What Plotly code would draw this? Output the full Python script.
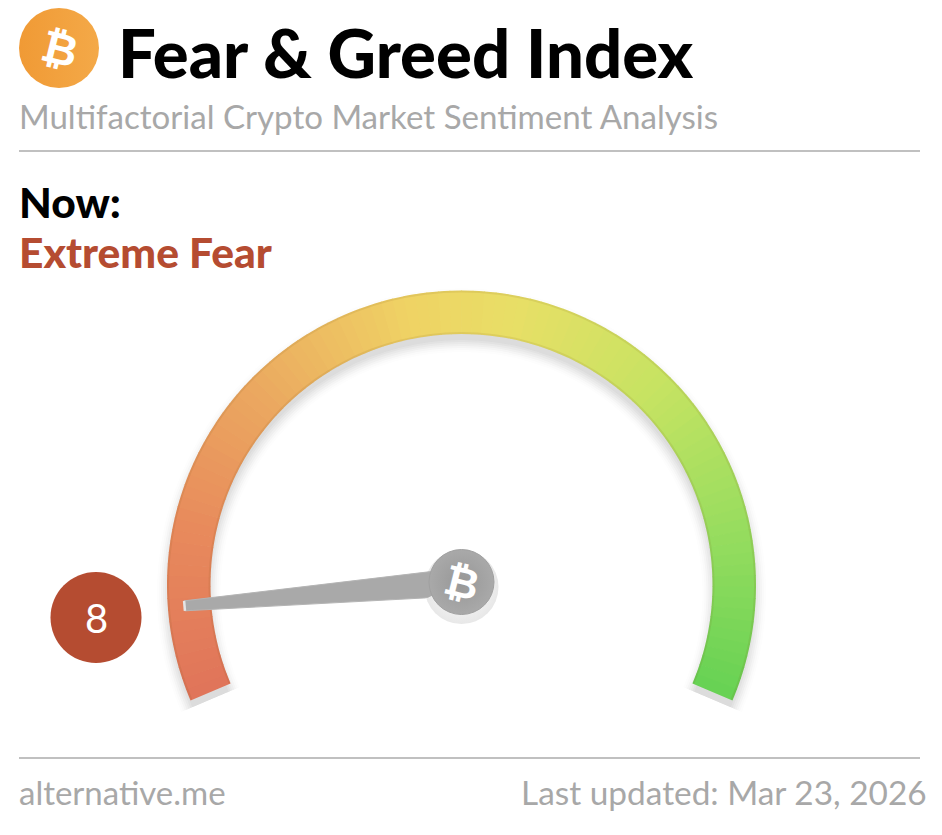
import math
import numpy as np
import plotly.graph_objs as go

## data
index_value = 8
index_label = 'Extreme Fear'
gauge_segments = np.arange(0, 100)
gauge_stops = [0, 0.15, 0.3, 0.45, 0.55, 0.7, 0.85, 1]
gauge_colors = ['#e0755a', '#e88a5c', '#ebaa60', '#efd264', '#e8df66', '#c6e362', '#98dd5f', '#68d254']

title = 'Fear & Greed Index'
subtitle = 'Multifactorial Crypto Market Sentiment Analysis'
site = 'alternative.me'
updated = 'Last updated: Mar 23, 2026'

W, H = 942, 835
CX, CY = 461.5, 585
HUB_Y = 582
R_OUT, R_IN = 294.5, 251
R_AXIS = 310
SWEEP = 226
START = -113
SECTOR = 25


def val2theta(v):
    return START + v * SWEEP / 100


def polar_layout(cy):
    bottom = cy + R_AXIS * math.sin(math.radians(SECTOR))
    return dict(domain=dict(x=[(CX - R_AXIS) / W, (CX + R_AXIS) / W],
                            y=[(H - bottom) / H, (H - (cy - R_AXIS)) / H]),
                sector=[-SECTOR, 180 + SECTOR],
                bgcolor='rgba(0,0,0,0)',
                barmode='overlay',
                radialaxis=dict(visible=False, range=[0, R_AXIS]),
                angularaxis=dict(visible=False, rotation=90, direction='clockwise',
                                 thetaunit='degrees'))


seg_theta = [val2theta(v + 0.5) for v in gauge_segments]
seg_width = SWEEP / 100 + 0.15
scale = [[s, c] for s, c in zip(gauge_stops, gauge_colors)]
arc_mid = val2theta(50)

fig = go.Figure()

# soft shadow, drawn first in its own offset subplot
for grow, alpha in [(10, 0.012), (8, 0.016), (6, 0.022), (4, 0.028), (2, 0.03), (0, 0.035), (-2, 0.035)]:
    fig.add_trace(go.Barpolar(r=[R_OUT - R_IN + 2 * grow], base=R_IN - grow,
                              theta=[arc_mid], width=[SWEEP],
                              marker=dict(color='rgba(50,50,50,%s)' % alpha, line=dict(width=0)),
                              hoverinfo='skip', showlegend=False, subplot='polar'))

# gauge band
fig.add_trace(go.Barpolar(r=[R_OUT - R_IN] * len(seg_theta),
                          base=R_IN,
                          theta=seg_theta,
                          width=seg_width,
                          marker=dict(color=[int(v) for v in gauge_segments], colorscale=scale,
                                      cmin=0, cmax=99, showscale=False, line=dict(width=0)),
                          hoverinfo='skip', showlegend=False, subplot='polar2'))

# slightly darker rim on the band
for base in [R_IN, R_OUT - 2]:
    fig.add_trace(go.Barpolar(r=[2], base=base, theta=[arc_mid], width=[SWEEP],
                              marker=dict(color='rgba(120,80,20,0.1)', line=dict(width=0)),
                              hoverinfo='skip', showlegend=False, subplot='polar2'))

# needle
needle_theta = val2theta(index_value)
tip_r, base_r, tip_half, base_half = 278, 30, 5, 13
needle_r = [math.hypot(tip_r, tip_half), math.hypot(tip_r, tip_half),
            math.hypot(base_r, base_half), math.hypot(base_r, base_half)]
tip_d = math.degrees(math.atan2(tip_half, tip_r))
base_d = math.degrees(math.atan2(base_half, base_r))
needle_t = [needle_theta - tip_d, needle_theta + tip_d, needle_theta + base_d, needle_theta - base_d]
fig.add_trace(go.Scatterpolar(r=needle_r + needle_r[:1], theta=needle_t + needle_t[:1],
                              mode='lines', fill='toself', fillcolor='#a9a9a9',
                              line=dict(color='#b4b4b4', width=1),
                              cliponaxis=False, hoverinfo='skip', showlegend=False, subplot='polar3'))
fig.add_trace(go.Scatterpolar(r=needle_r[:2], theta=needle_t[:2], mode='lines',
                              line=dict(color='#e4e4e4', width=2.5),
                              cliponaxis=False, hoverinfo='skip', showlegend=False, subplot='polar3'))

# hub
fig.add_trace(go.Scatter(x=[CX], y=[HUB_Y + 5], mode='markers',
                         marker=dict(size=74, color='rgba(60,60,60,0.12)',
                                     gradient=dict(type='radial', color='rgba(60,60,60,0)'),
                                     line=dict(width=0)),
                         hoverinfo='skip', showlegend=False))
fig.add_trace(go.Scatterpolar(r=[0], theta=[0], mode='markers',
                              marker=dict(size=65, color='#a9a9a9',
                                          gradient=dict(type='radial', color='#979797'),
                                          line=dict(color='#a0a0a0', width=1)),
                              cliponaxis=False, hoverinfo='skip', showlegend=False, subplot='polar3'))

# logo and score badge
fig.add_trace(go.Scatter(x=[59], y=[48], mode='markers',
                         marker=dict(size=80, color='#f09a35',
                                     gradient=dict(type='horizontal', color='#f4a948'),
                                     line=dict(width=0)),
                         hoverinfo='skip', showlegend=False))
fig.add_trace(go.Scatter(x=[96], y=[617.5], mode='markers',
                         marker=dict(size=91, color='#b54c31', line=dict(width=0)),
                         hoverinfo='skip', showlegend=False))

labels = [
    (117, 52, title, 'Lato', 67, '#000000', 'left', 900),
    (18, 116, subtitle, 'Lato', 33.1, '#a8a8a8', 'left', 400),
    (18, 201, 'Now:', 'Lato', 42.5, '#000000', 'left', 900),
    (18, 251, index_label, 'Lato', 42.5, '#b54c31', 'left', 900),
    (18, 792, site, 'Lato', 33, '#a8a8a8', 'left', 400),
    (928, 792, updated, 'Lato', 33.4, '#a8a8a8', 'right', 400),
    (96, 618, str(index_value), 'Lato', 40, '#ffffff', 'center', 400),
]
for x, y, txt, fam, size, col, anchor, weight in labels:
    fig.add_annotation(x=x, y=y, xref='x', yref='y', text=txt, showarrow=False,
                       xanchor=anchor, yanchor='middle', borderpad=0,
                       font=dict(family=fam, size=size, color=col, weight=weight))

fig.add_annotation(x=60, y=48, xref='x', yref='y', text='\u20bf', showarrow=False, textangle=14,
                   font=dict(family='Liberation Sans', size=44, color='#ffffff', weight=700))
fig.add_annotation(x=CX, y=HUB_Y, xref='x', yref='y', text='\u20bf', showarrow=False, textangle=14,
                   font=dict(family='Liberation Sans', size=42, color='#ffffff', weight=700))

for y_line in [151, 758]:
    fig.add_shape(type='line', x0=19, x1=920, y0=y_line, y1=y_line, xref='x', yref='y',
                  line=dict(color='#ababab', width=1.5))

fig.update_layout(width=W, height=H,
                  margin=dict(l=0, r=0, t=0, b=0),
                  paper_bgcolor='white', plot_bgcolor='white',
                  showlegend=False,
                  xaxis=dict(visible=False, range=[0, W], domain=[0, 1], fixedrange=True),
                  yaxis=dict(visible=False, range=[H, 0], domain=[0, 1], fixedrange=True),
                  polar=polar_layout(CY + 8),
                  polar2=polar_layout(CY),
                  polar3=polar_layout(HUB_Y))

fig.write_html("out.html", config=dict(displayModeBar=False),
               post_script="document.body.style.margin='0';window.dispatchEvent(new Event('resize'));")
